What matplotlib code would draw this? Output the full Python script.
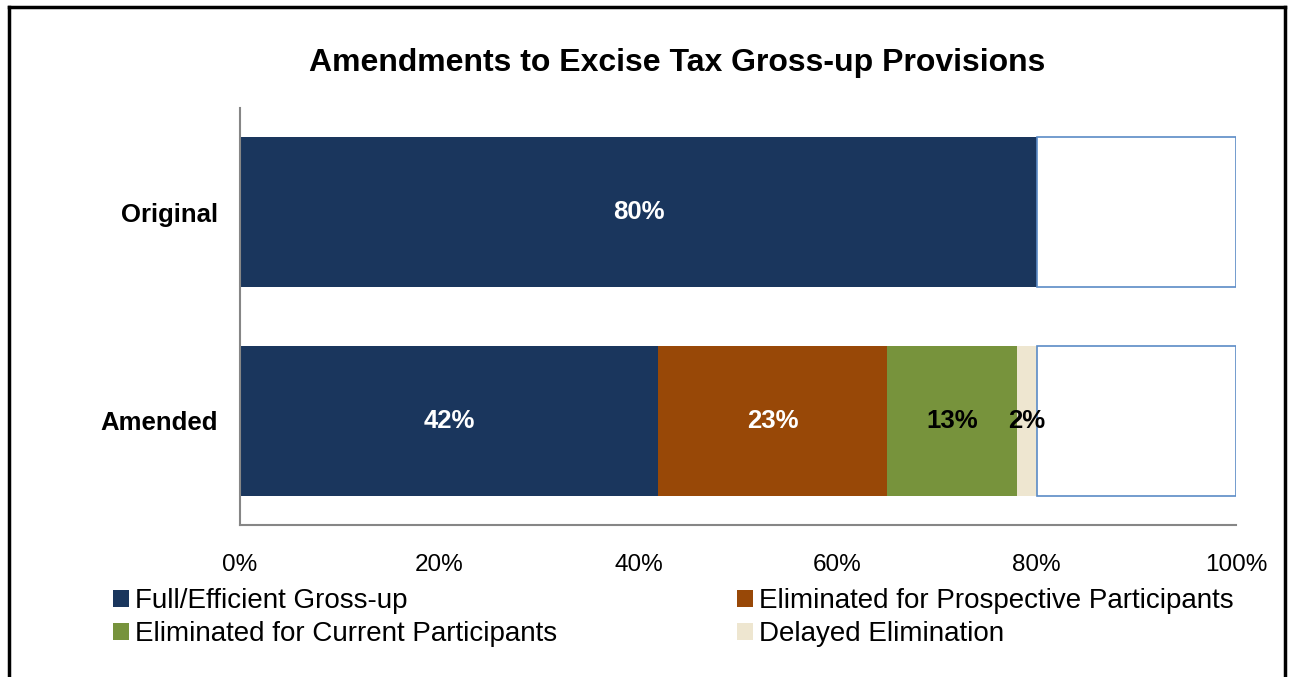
import matplotlib.pyplot as plt
from matplotlib.lines import Line2D

plt.rcParams['font.family'] = ['Liberation Sans', 'DejaVu Sans']

# Data
plans = ["Amended", "Original"]
series_names = [
    "Full/Efficient Gross-up",
    "Eliminated for Prospective Participants",
    "Eliminated for Current Participants",
    "Delayed Elimination",
]
full_grossup = [42, 80]
elim_prospective = [23, 0]
elim_current = [13, 0]
delayed = [2, 0]
remainder = [20, 20]

colors = ["#1A365D", "#984807", "#77933C", "#EEE6D0"]
label_colors = ["white", "white", "black", "black"]

fig = plt.figure(figsize=(12.93, 6.77), dpi=100)
ax = fig.add_axes([240 / 1293, 1 - 525 / 677, 996 / 1293, 417 / 677])

y = [0, 1]
left = [0, 0]
handles = []
for name, vals, c, tc in zip(series_names,
                             [full_grossup, elim_prospective, elim_current, delayed],
                             colors, label_colors):
    bars = ax.barh(y, vals, left=left, height=0.72, color=c, label=name)
    handles.append(bars)
    for yi, v, l in zip(y, vals, left):
        if v > 0:
            ax.text(l + v / 2, yi, f"{v}%", ha="center", va="center",
                    color=tc, fontsize=18.5, fontweight="bold")
    left = [a + b for a, b in zip(left, vals)]

# empty remainder boxes
ax.barh(y, remainder, left=left, height=0.72, facecolor="white",
        edgecolor="#5B8BC6", linewidth=1.2)

ax.set_xlim(0, 100)
ax.set_ylim(-0.5, 1.5)
ax.set_xticks([0, 20, 40, 60, 80, 100])
ax.set_xticklabels([f"{t}%" for t in [0, 20, 40, 60, 80, 100]], fontsize=17.5)
ax.set_yticks(y)
ax.set_yticklabels(plans, fontsize=18.5, fontweight="bold")
ax.tick_params(axis="both", length=0)
ax.tick_params(axis="x", pad=21)
ax.tick_params(axis="y", pad=16)
for s in ["top", "right"]:
    ax.spines[s].set_visible(False)
for s in ["left", "bottom"]:
    ax.spines[s].set_color("#868686")
    ax.spines[s].set_linewidth(1.5)

fig.text(0.5236, 1 - 63 / 677, "Amendments to Excise Tax Gross-up Provisions",
         ha="center", va="center", fontsize=23, fontweight="bold")

# legend, filled column by column
order = [0, 2, 1, 3]
fig.legend([handles[i] for i in order], [series_names[i] for i in order],
           ncol=2, loc="upper left", bbox_to_anchor=(113 / 1293, 1 - 588 / 677),
           frameon=False, fontsize=20, handlelength=0.58, handleheight=0.58,
           handletextpad=0.2, columnspacing=6.5, labelspacing=0.25,
           borderpad=0, borderaxespad=0)

# outer frame
for xs, ys in [([9, 9], [700, 7]), ([9, 1285], [7, 7]), ([1285, 1285], [7, 700])]:
    fig.add_artist(Line2D([x / 1293 for x in xs], [1 - v / 677 for v in ys],
                          color="black", linewidth=2.5, transform=fig.transFigure))

plt.savefig("out.png", dpi=100)
